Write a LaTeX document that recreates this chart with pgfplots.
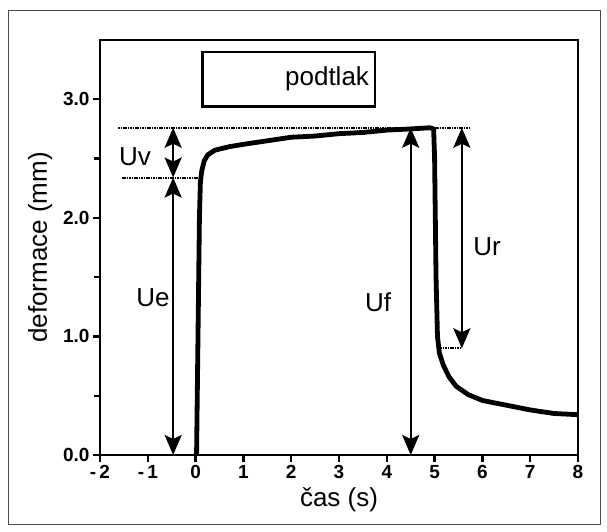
\documentclass[border=0pt]{standalone}
\usepackage{pgfplots}
\pgfplotsset{compat=1.18}
\usepackage{fontspec}
\setmainfont{Liberation Sans}
\usetikzlibrary{arrows.meta}
\begin{document}
\begin{tikzpicture}[x=1pt,y=1pt]
\path[use as bounding box] (0,0) rectangle (607,532);
\draw[gray!60!black, line width=1pt] (8,7) rectangle (600,521);
\begin{axis}[
  at={(100pt,77pt)}, anchor=south west,
  scale only axis, width=478pt, height=415pt,
  xmin=-2, xmax=8, ymin=0, ymax=3.5,
  axis line style={line width=2.6pt},
  xtick={-2,-1,0,1,2,3,4,5,6,7,8},
  xticklabels={{-\,2},{-\,1},0,1,2,3,4,5,6,7,8},
  ytick={0,1,2,3},
  yticklabels={0.0,1.0,2.0,3.0},
  minor ytick={0.5,1.5,2.5},
  xtick pos=left, ytick pos=left,
  tick align=outside,
  tick style={line width=2.4pt, black},
  major tick length=7pt, minor tick length=6pt,
  ticklabel style={font=\fontsize{19}{19}\selectfont\bfseries},
  xlabel={čas (s)},
  ylabel={deformace (mm)},
  label style={font=\fontsize{26}{30}\selectfont},
  xlabel style={at={(axis description cs:0.5,-0.108)}, anchor=center},
  ylabel style={at={(axis description cs:-0.125,0.5)}, anchor=center},
  clip=false,
]
\addplot[line width=4.8pt, black, line join=round, mark=none] coordinates {
(0.02,0) (0.05,1.0) (0.08,2.0) (0.1,2.3) (0.13,2.4) (0.18,2.48) (0.25,2.53)
(0.4,2.57) (0.7,2.6) (1,2.62) (1.5,2.65) (2,2.68) (2.5,2.69) (3,2.71) (3.5,2.72)
(4,2.74) (4.5,2.75) (4.9,2.76) (4.98,2.75) (5.0,2.5) (5.03,1.5) (5.06,1.0)
(5.1,0.86) (5.18,0.76) (5.3,0.66) (5.45,0.58) (5.7,0.51) (6,0.46) (6.5,0.42)
(7,0.38) (7.5,0.35) (8,0.34)
};
% box
\draw[line width=2.6pt] (axis cs:0.15,2.94) rectangle (axis cs:3.75,3.40);
\node[font=\fontsize{26}{30}\selectfont] at (axis cs:2.75,3.17) {podtlak};
% dotted reference lines
\draw[line width=2pt, dash pattern=on 1.6pt off 0.8pt] (axis cs:-1.62,2.76) -- (axis cs:5.74,2.76);
\draw[line width=2pt, dash pattern=on 1.6pt off 0.8pt] (axis cs:-1.54,2.34) -- (axis cs:0.05,2.34);
\draw[line width=2pt, dash pattern=on 1.6pt off 0.8pt] (axis cs:5.07,0.9) -- (axis cs:5.55,0.9);
% arrows
\tikzset{dbl/.style={line width=2.4pt, {Stealth[length=20pt,width=17pt,inset=4pt]}-{Stealth[length=20pt,width=17pt,inset=4pt]}}}
\draw[dbl] (axis cs:-0.47,2.34) -- (axis cs:-0.47,2.76);
\draw[dbl] (axis cs:-0.47,0) -- (axis cs:-0.47,2.34);
\draw[dbl] (axis cs:4.5,0) -- (axis cs:4.5,2.76);
\draw[dbl] (axis cs:5.57,0.9) -- (axis cs:5.57,2.76);
% labels
\node[font=\fontsize{26}{30}\selectfont] at (axis cs:-1.27,2.52) {Uv};
\node[font=\fontsize{26}{30}\selectfont] at (axis cs:-0.89,1.33) {Ue};
\node[font=\fontsize{26}{30}\selectfont] at (axis cs:3.82,1.29) {Uf};
\node[font=\fontsize{26}{30}\selectfont] at (axis cs:6.10,1.76) {Ur};
\end{axis}
\end{tikzpicture}
\end{document}
